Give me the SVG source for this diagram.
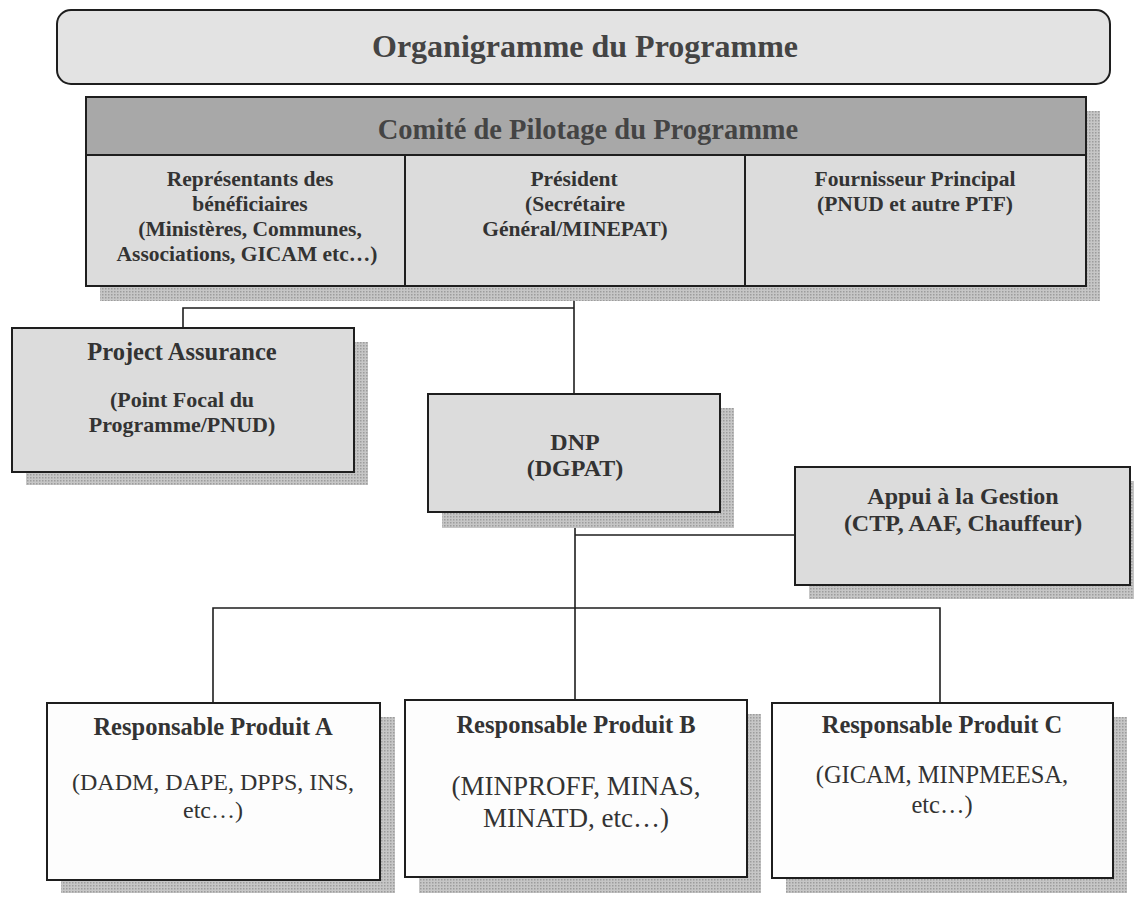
<svg xmlns="http://www.w3.org/2000/svg" width="1134" height="912" viewBox="0 0 1134 912" font-family="'Liberation Serif', 'Times New Roman', serif">
<defs>
<pattern id="dots" width="3" height="3" patternUnits="userSpaceOnUse">
<rect width="3" height="3" fill="#c6c6c6"/>
<rect width="1.5" height="1.5" fill="#9c9c9c"/>
</pattern>
<style>
.box{stroke:#1e1e1e;stroke-width:2}
.gray{fill:#dcdcdc}
.white{fill:#fdfdfd}
.shadow{fill:url(#dots)}
.conn{stroke:#1e1e1e;stroke-width:1.6;fill:none}
text{font-family:'Liberation Serif',serif;fill:#333;text-anchor:middle}
.big{font-size:32px;font-weight:bold;fill:#444}
.b{font-weight:bold}
.g{fill:#444}
.c{font-size:21.5px;font-weight:bold}
</style>
</defs>
<rect width="1134" height="912" fill="#ffffff"/>

<g id="connectors">
<polyline class="conn" points="183,328 183,308 574,308"/>
<line class="conn" x1="574" y1="276" x2="574" y2="394"/>
<line class="conn" x1="575" y1="512" x2="575" y2="700"/>
<line class="conn" x1="575" y1="535" x2="795" y2="535"/>
<polyline class="conn" points="213,703 213,608 940,608 940,703"/>
</g>

<g id="title">
<rect x="57" y="10" width="1053" height="74" rx="14" class="box" fill="#e3e3e3"/>
<text x="585" y="57" class="big">Organigramme du Programme</text>
</g>

<g id="comite">
<rect x="100" y="111" width="1000" height="190" class="shadow"/>
<rect x="86" y="97" width="1000" height="189" class="box gray"/>
<rect x="86" y="97" width="1000" height="58" class="box" fill="#a8a8a8"/>
<line class="box" x1="405" y1="155" x2="405" y2="286"/>
<line class="box" x1="745" y1="155" x2="745" y2="286"/>
<text x="588" y="139" class="big" style="font-size:28.5px">Comité de Pilotage du Programme</text>
<g class="g">
<text class="c" x="250" y="186">Représentants des</text>
<text class="c" x="250" y="211">bénéficiaires</text>
<text class="c" x="250" y="236">(Ministères, Communes,</text>
<text class="c" x="247" y="261">Associations, GICAM etc…)</text>
<text class="c" x="574" y="186">Président</text>
<text class="c" x="575" y="211">(Secrétaire</text>
<text class="c" x="575" y="236">Général/MINEPAT)</text>
<text class="c" x="915" y="186">Fournisseur Principal</text>
<text class="c" x="915" y="211">(PNUD et autre PTF)</text>
</g>
</g>

<g id="project-assurance">
<rect x="26" y="342" width="342" height="143" class="shadow"/>
<rect x="12" y="328" width="342" height="144" class="box gray"/>
<text class="b" x="182" y="360" font-size="24.5">Project Assurance</text>
<text class="b" x="182" y="407" font-size="22">(Point Focal du</text>
<text class="b" x="182" y="432" font-size="22">Programme/PNUD)</text>
</g>

<g id="dnp">
<rect x="442" y="408" width="292" height="120" class="shadow"/>
<rect x="428" y="394" width="292" height="118" class="box gray"/>
<text class="b" x="575" y="450" font-size="24">DNP</text>
<text class="b" x="575" y="476" font-size="24">(DGPAT)</text>
</g>

<g id="appui">
<rect x="809" y="481" width="325" height="118" class="shadow"/>
<rect x="795" y="467" width="335" height="118" class="box gray"/>
<text class="b" x="963" y="504" font-size="24">Appui à la Gestion</text>
<text class="b" x="963" y="531" font-size="24">(CTP, AAF, Chauffeur)</text>
</g>

<g id="produit-a">
<rect x="61" y="717" width="334" height="176" class="shadow"/>
<rect x="47" y="703" width="333" height="177" class="box white"/>
<text class="b" x="213" y="735" font-size="24.5">Responsable Produit A</text>
<text x="213" y="790" font-size="24">(DADM, DAPE, DPPS, INS,</text>
<text x="213" y="818" font-size="24">etc…)</text>
</g>

<g id="produit-b">
<rect x="419" y="714" width="342" height="179" class="shadow"/>
<rect x="405" y="700" width="342" height="177" class="box white"/>
<text class="b" x="576" y="733" font-size="24.5">Responsable Produit B</text>
<text x="576" y="795" font-size="27">(MINPROFF, MINAS,</text>
<text x="576" y="827" font-size="27">MINATD, etc…)</text>
</g>

<g id="produit-c">
<rect x="786" y="717" width="341" height="176" class="shadow"/>
<rect x="772" y="703" width="341" height="175" class="box white"/>
<text class="b" x="942" y="733" font-size="24.5">Responsable Produit C</text>
<text x="942" y="783" font-size="24.5">(GICAM, MINPMEESA,</text>
<text x="942" y="813" font-size="24.5">etc…)</text>
</g>
</svg>
